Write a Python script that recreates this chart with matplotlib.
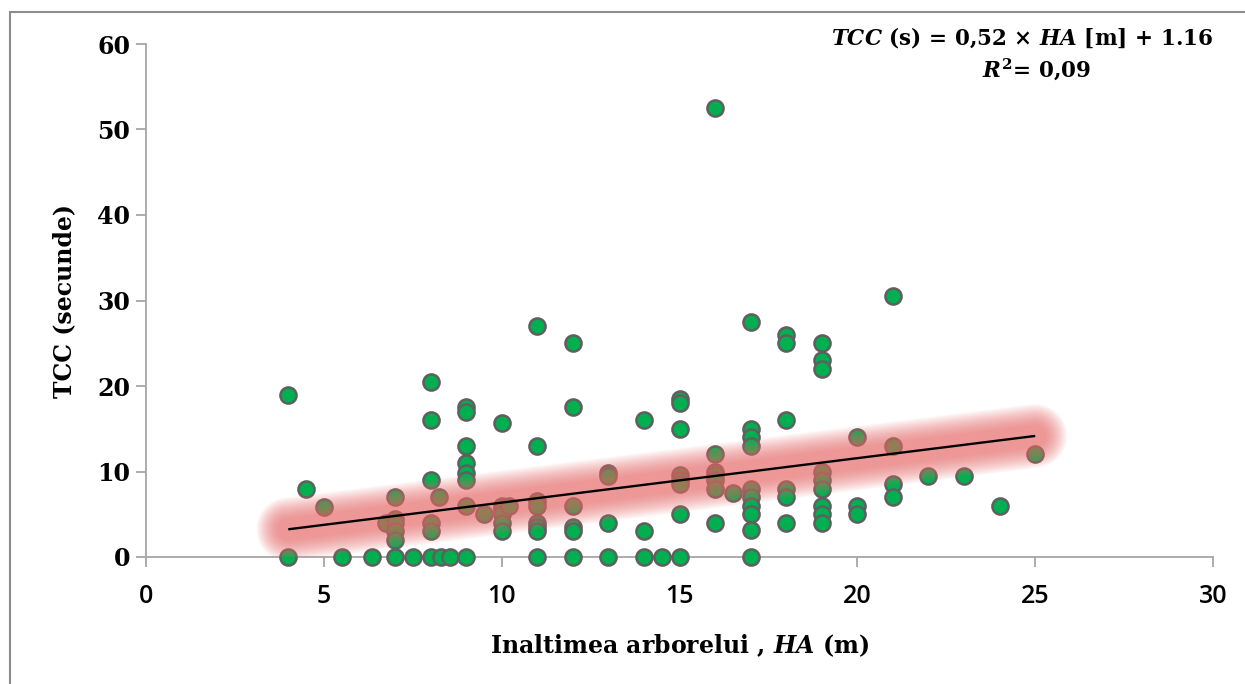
import numpy as np
import matplotlib
matplotlib.use("Agg")
import matplotlib.pyplot as plt
from matplotlib.patches import Rectangle

# ---- data ----
ha_values = [4, 4, 4.5, 5, 5.5, 6.35, 6.75,
             7, 7, 7, 7, 7, 7, 7.5,
             8, 8, 8, 8, 8, 8, 8.25, 8.3, 8.55,
             9, 9, 9, 9, 9, 9, 9, 9, 9.5,
             10, 10, 10, 10, 10, 10, 10.2,
             11, 11, 11, 11, 11, 11, 11, 11,
             12, 12, 12, 12, 12, 12,
             13, 13, 13, 13,
             14, 14, 14, 14.5,
             15, 15, 15, 15, 15, 15, 15, 15,
             16, 16, 16, 16, 16, 16, 16, 16.5,
             17, 17, 17, 17, 17, 17, 17, 17, 17, 17,
             18, 18, 18, 18, 18, 18,
             19, 19, 19, 19, 19, 19, 19, 19, 19,
             20, 20, 20,
             21, 21, 21, 21,
             22, 23, 24, 25]
tcc_values = [19, 0, 8, 5.8, 0, 0, 4,
              7, 4.5, 4, 3, 2, 0, 0,
              20.5, 16, 9, 4, 3, 0, 7, 0, 0,
              17.5, 17, 13, 11, 9.8, 9, 6, 0, 5,
              15.7, 6, 5.6, 5, 4, 3, 6,
              27, 13, 6.5, 6, 4, 3.5, 3, 0,
              25, 17.5, 6, 3.5, 3, 0,
              9.8, 9.5, 4, 0,
              16, 3, 0, 0,
              18.5, 18, 15, 9.6, 9, 8.5, 5, 0,
              52.5, 12, 10, 9.6, 9, 8, 4, 7.5,
              27.5, 15, 14, 13, 8, 7, 6, 5, 3.2, 0,
              26, 25, 16, 8, 7, 4,
              25, 23, 22, 10, 9, 8, 6, 5, 4,
              14, 6, 5,
              30.5, 13, 8.5, 7,
              9.5, 9.5, 6, 12]

trend_slope = 0.52
trend_intercept = 1.16
trend_range = [4, 25]

x_ticks = [0, 5, 10, 15, 20, 25, 30]
y_ticks = [0, 10, 20, 30, 40, 50, 60]

eq_line1 = r"$\mathit{TCC}$ (s) = 0,52 × $\mathit{HA}$ [m] + 1.16"
eq_line2 = r"$\mathit{R^{2}}$= 0,09"
x_label = r"Inaltimea arborelui , $\mathit{HA}$ (m)"
y_label = "TCC (secunde)"

# ---- style ----
plt.rcParams['mathtext.fontset'] = 'custom'
plt.rcParams['mathtext.rm'] = 'DejaVu Serif:bold'
plt.rcParams['mathtext.it'] = 'DejaVu Serif:italic:bold'
plt.rcParams['mathtext.bf'] = 'DejaVu Serif:bold'

W, H = 1245, 684
fig = plt.figure(figsize=(W / 100, H / 100), dpi=100)
ax = fig.add_axes([146 / W, 1 - 557 / H, (1213 - 146) / W, (557 - 44) / H])

axis_col = '#A6A6A6'

# points
ax.scatter(ha_values, tcc_values, s=135, c='#00B050', edgecolors='#5F5F5F',
           linewidths=1.8, zorder=3, clip_on=False)

# trend line with soft red glow
tx = np.array(trend_range, dtype=float)
ty = trend_slope * tx + trend_intercept
widths = np.linspace(46, 16, 22)
for w in widths:
    ax.plot(tx, ty, color='#EE6A6A', lw=w, alpha=0.048, solid_capstyle='round',
            zorder=4)
ax.plot(tx, ty, color='black', lw=1.7, zorder=5, solid_capstyle='butt')

ax.set_xlim(0, 30)
ax.set_ylim(0, 60)
ax.set_xticks(x_ticks)
ax.set_yticks(y_ticks)
ax.set_xticklabels([str(t) for t in x_ticks], fontsize=18, family='Open Sans',
                   fontweight='semibold')
ax.set_yticklabels([str(t) for t in y_ticks], fontsize=17, family='DejaVu Serif',
                   fontweight='bold')

for side in ['top', 'right']:
    ax.spines[side].set_visible(False)
for side in ['left', 'bottom']:
    ax.spines[side].set_color(axis_col)
    ax.spines[side].set_linewidth(1.3)
ax.tick_params(axis='both', direction='out', length=7.5, width=1.3, color=axis_col)
ax.tick_params(axis='x', pad=12)
ax.tick_params(axis='y', pad=4)

ax.set_xlabel(x_label, fontsize=17, family='DejaVu Serif', fontweight='bold',
              labelpad=17)
ax.set_ylabel(y_label, fontsize=17, family='DejaVu Serif', fontweight='bold',
              labelpad=15)

# equation text (top right)
fig.text(1022 / W, 1 - 38 / H, eq_line1, ha='center', va='center', fontsize=15.5,
         family='DejaVu Serif', fontweight='bold')
fig.text(1037 / W, 1 - 70 / H, eq_line2, ha='center', va='center', fontsize=15.5,
         family='DejaVu Serif', fontweight='bold')

# outer chart border (cropped at right/bottom)
fig.patches.append(Rectangle((10 / W, -0.1), 1.2, 1 - 12 / H + 0.1,
                             transform=fig.transFigure, fill=False,
                             edgecolor='#8C8C8C', lw=1.5))

fig.savefig('out.png', dpi=100)
